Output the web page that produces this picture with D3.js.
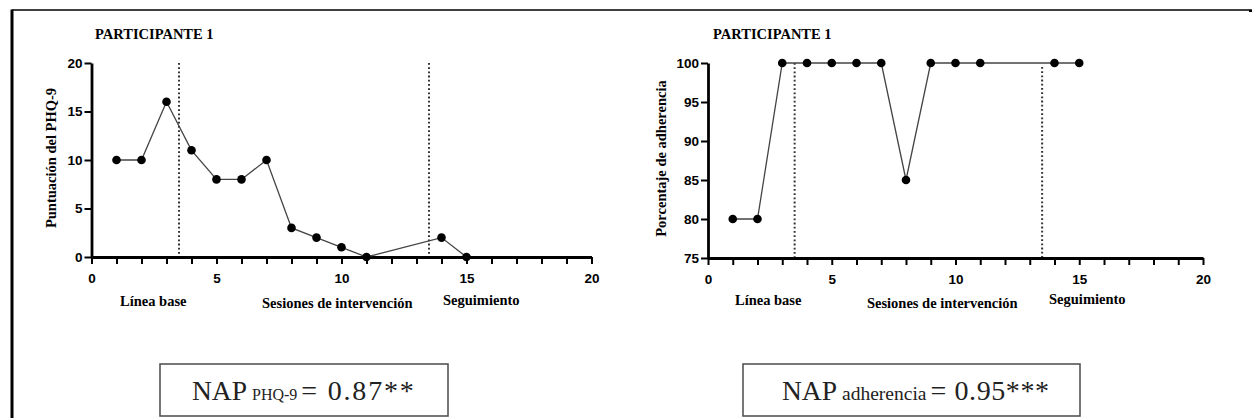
<!DOCTYPE html>
<html>
<head>
<meta charset="utf-8">
<script src="https://cdn.jsdelivr.net/npm/d3@7"></script>
<style>
  html, body { margin: 0; padding: 0; background: #fff; }
  svg { display: block; }
</style>
</head>
<body>
<svg id="chart" width="1252" height="418"></svg>
<script>
// sesiones registradas (no hay 12 y 13)
const sessions = [1, 2, 3, 4, 5, 6, 7, 8, 9, 10, 11, 14, 15];
const phq9 = [10, 10, 16, 11, 8, 8, 10, 3, 2, 1, 0, 2, 0];
const adherence = [80, 80, 100, 100, 100, 100, 100, 85, 100, 100, 100, 100, 100];
const phaseChanges = [3.5, 13.5];
const phaseLabels = ["Línea base", "Sesiones de intervención", "Seguimiento"];
const titles = ["PARTICIPANTE 1", "PARTICIPANTE 1"];
const yLabels = ["Puntuación del PHQ-9", "Porcentaje de adherencia"];
const napSub = ["PHQ-9", "adherencia"];
const napValue = ["= 0.87**", "= 0.95***"];

const serif = "'Liberation Serif', 'Times New Roman', serif";
const sans = "'Liberation Sans', Arial, sans-serif";

const svg = d3.select("#chart");

// marco
svg.append("line").attr("x1", 12).attr("x2", 1252).attr("y1", 10).attr("y2", 10)
  .attr("stroke", "#000").attr("stroke-width", 1.5);
svg.append("line").attr("x1", 12).attr("x2", 12).attr("y1", 9.5).attr("y2", 418)
  .attr("stroke", "#000").attr("stroke-width", 3);
svg.append("rect").attr("x", 1249).attr("y", 10).attr("width", 3).attr("height", 2).attr("fill", "#000");

const panels = [
  {
    values: phq9, yDomain: [0, 20], yTicks: [0, 5, 10, 15, 20],
    xRange: [91.5, 591.5], yRange: [257, 63],
    titleX: 95, labelX: 56,
    phaseX: [1.14, 6.82, 14.06], phaseY: [306, 308, 305],
    box: [160, 364, 288, 52], napX: 192, subSize: 16, valSpacing: 1.8
  },
  {
    values: adherence, yDomain: [75, 100], yTicks: [75, 80, 85, 90, 95, 100],
    xRange: [708, 1203], yRange: [258, 63],
    titleX: 713, labelX: 666,
    phaseX: [1.09, 6.42, 13.78], phaseY: [305, 308, 304],
    box: [743, 364, 337, 52], napX: 782, subSize: 19.5, valSpacing: 0.6
  }
];

panels.forEach((p, i) => {
  const x = d3.scaleLinear().domain([0, 20]).range(p.xRange);
  const y = d3.scaleLinear().domain(p.yDomain).range(p.yRange);
  const g = svg.append("g");

  g.append("text")
    .attr("x", p.titleX).attr("y", 39)
    .attr("font-family", serif).attr("font-weight", "bold").attr("font-size", 14.5)
    .text(titles[i]);

  const yMid = (p.yRange[0] + p.yRange[1]) / 2 - 2;
  g.append("text")
    .attr("transform", `translate(${p.labelX},${yMid}) rotate(-90)`)
    .attr("text-anchor", "middle")
    .attr("font-family", serif).attr("font-weight", "bold").attr("font-size", 14.5)
    .text(yLabels[i]);

  // líneas de cambio de fase
  g.selectAll(".phase")
    .data(phaseChanges)
    .join("line")
    .attr("x1", d => x(d)).attr("x2", d => x(d))
    .attr("y1", (d, k) => y(p.yDomain[1]) + (i === 1 && k === 1 ? 4 : 0))
    .attr("y2", y(p.yDomain[0]))
    .attr("stroke", "#333").attr("stroke-width", 2)
    .attr("stroke-dasharray", "1.8,2.4");

  const yAxis = g.append("g")
    .attr("transform", `translate(${p.xRange[0]},0)`)
    .call(d3.axisLeft(y).tickValues(p.yTicks).tickSize(7).tickSizeOuter(0).tickPadding(2));

  const xAxis = g.append("g")
    .attr("transform", `translate(0,${p.yRange[0]})`)
    .call(d3.axisBottom(x).tickValues(d3.range(0, 21)).tickSize(7).tickSizeOuter(0)
      .tickPadding(9).tickFormat(d => d % 5 === 0 ? d : ""));

  [xAxis, yAxis].forEach(ax => {
    ax.select(".domain").attr("stroke", "#000").attr("stroke-width", 2.8);
    ax.selectAll(".tick line").attr("stroke", "#000").attr("stroke-width", 2);
    ax.selectAll(".tick text")
      .attr("fill", "#000")
      .attr("font-family", sans).attr("font-weight", "bold").attr("font-size", 13.5);
  });

  const pts = sessions.map((s, k) => [s, p.values[k]]);
  g.append("path")
    .datum(pts)
    .attr("fill", "none").attr("stroke", "#444").attr("stroke-width", 1.3)
    .attr("d", d3.line().x(d => x(d[0])).y(d => y(d[1])));

  g.selectAll(".dot")
    .data(pts)
    .join("circle")
    .attr("cx", d => x(d[0])).attr("cy", d => y(d[1]))
    .attr("r", 4.3).attr("fill", "#000");

  g.selectAll(".phaseLabel")
    .data(phaseLabels)
    .join("text")
    .attr("x", (d, k) => x(p.phaseX[k]))
    .attr("y", (d, k) => p.phaseY[k])
    .attr("font-family", serif).attr("font-weight", "bold").attr("font-size", 14.5)
    .text(d => d);

  // recuadro NAP
  const [bx, by, bw, bh] = p.box;
  g.append("rect")
    .attr("x", bx).attr("y", by).attr("width", bw).attr("height", bh)
    .attr("fill", "none").attr("stroke", "#555").attr("stroke-width", 1.6);

  const t = g.append("text")
    .attr("x", p.napX).attr("y", 400)
    .attr("font-family", serif).attr("fill", "#222");
  t.append("tspan").attr("font-size", 27.5).text("NAP");
  t.append("tspan").attr("dx", 5).attr("font-size", p.subSize).text(napSub[i]);
  t.append("tspan").attr("dx", 4).attr("font-size", 28)
    .attr("letter-spacing", p.valSpacing).text(napValue[i]);
});
</script>
</body>
</html>
